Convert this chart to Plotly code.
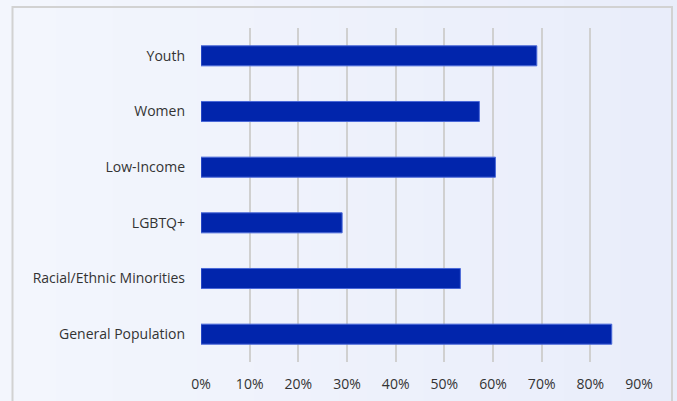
import plotly.graph_objects as go

categories = ["General Population", "Racial/Ethnic Minorities", "LGBTQ+", "Low-Income", "Women", "Youth"]
values = [0.844, 0.533, 0.290, 0.605, 0.572, 0.690]
tick_vals = [0, 0.1, 0.2, 0.3, 0.4, 0.5, 0.6, 0.7, 0.8, 0.9]
tick_text = ["0%", "10%", "20%", "30%", "40%", "50%", "60%", "70%", "80%", "90%"]

W, H = 677, 401
ml, mr, mt, mb = 201, 38, 28, 39
pw, ph = W - ml - mr, H - mt - mb

def px_to_paper_x(px):
    return (px - ml) / pw

def py_to_paper_y(py):
    return (H - mb - py) / ph

fig = go.Figure(go.Bar(
    y=categories, x=values, orientation="h",
    marker=dict(color="#0125AC", line=dict(color="#4A68D8", width=1)),
    width=0.36,
))

shapes = []
n = 24
c0 = (243, 246, 253)
c1 = (233, 237, 250)
for i in range(n):
    t = i / (n - 1)
    col = tuple(round(c0[k] + (c1[k] - c0[k]) * t) for k in range(3))
    shapes.append(dict(type="rect", xref="paper", yref="paper", layer="below",
                       x0=px_to_paper_x(W * i / n), x1=px_to_paper_x(W * (i + 1) / n + 1),
                       y0=py_to_paper_y(H + 5), y1=py_to_paper_y(-5),
                       fillcolor="rgb(%d,%d,%d)" % col, line=dict(width=0)))
shapes.append(dict(type="rect", xref="paper", yref="paper", layer="below",
                   x0=px_to_paper_x(12.5), x1=px_to_paper_x(672),
                   y0=py_to_paper_y(420), y1=py_to_paper_y(7),
                   fillcolor="rgba(0,0,0,0)", line=dict(color="#D2D2D2", width=2)))

fig.update_layout(
    width=W, height=H,
    margin=dict(l=ml, r=mr, t=mt, b=mb, pad=0, autoexpand=False),
    paper_bgcolor="#EEF1FB",
    plot_bgcolor="rgba(0,0,0,0)",
    showlegend=False,
    shapes=shapes,
    font=dict(family="Open Sans, Noto Sans, sans-serif", size=14, color="#333333"),
    xaxis=dict(range=[0, 0.9], tickvals=tick_vals, ticktext=tick_text,
               showgrid=True, gridcolor="#D0D0D0", gridwidth=1.5, automargin=False,
               zeroline=False, showline=False, ticks="", ticklabelstandoff=12,
               tickfont=dict(size=14, color="#333333")),
    yaxis=dict(range=[-0.5, 5.5], showgrid=False, zeroline=False, showline=False,
               automargin=False,
               ticks="", ticklabelstandoff=15, tickfont=dict(size=14, color="#333333")),
)

fig.write_html("out.html", config={"displayModeBar": False},
               post_script="document.body.style.margin='0px';document.body.style.overflow='hidden';")
